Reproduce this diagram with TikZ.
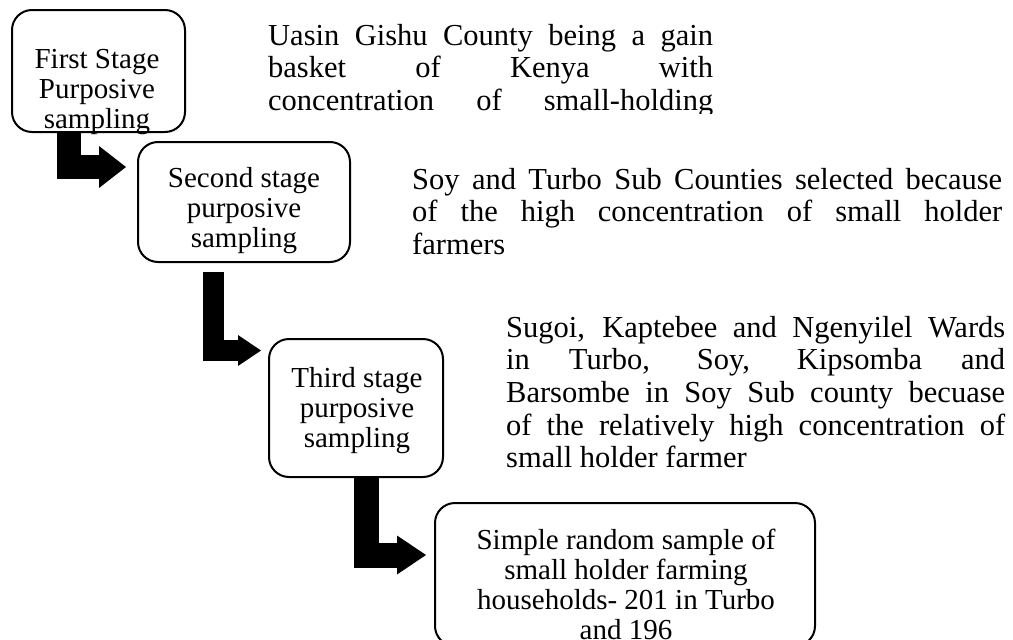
\documentclass[tikz,border=0pt]{standalone}
\usepackage{fontspec}
\setmainfont{Liberation Serif}
\usetikzlibrary{arrows.meta,calc}
\newcommand\jline[2]{\makebox[#1][s]{#2}}
\tikzset{
  stagebox/.style={draw, line width=2pt, rounded corners=20pt, inner sep=0pt},
  boxtext/.style={inner sep=0pt, anchor=base, font=\fontsize{29}{30}\selectfont},
  paratext/.style={inner sep=0pt, anchor=base west, font=\fontsize{30.5}{32.7}\selectfont},
  fatarrow/.style={line join=miter, line cap=butt}
}
\begin{document}
\begin{tikzpicture}[x=1pt,y=-1pt]
\useasboundingbox (0,0) rectangle (1013,640);
\clip (0,0) rectangle (1013,640);

% boxes
\node[stagebox, minimum width=173pt, minimum height=122pt] (b1) at (98.5,71) {};
\node[stagebox, minimum width=212pt, minimum height=120pt] (b2) at (244,202) {};
\node[stagebox, minimum width=174pt, minimum height=138pt] (b3) at (356,408) {};
\node[stagebox, minimum width=380pt, minimum height=143pt] (b4) at (625,574.5) {};

% box texts
\node[boxtext] (t1) at (97,68) {\parbox[t]{170pt}{\centering First Stage\\Purposive\\sampling}};
\node[boxtext] (t2) at (244,187) {\parbox[t]{210pt}{\centering Second stage\\purposive\\sampling}};
\node[boxtext] (t3) at (357,387) {\parbox[t]{172pt}{\centering Third stage\\purposive\\sampling}};
\node[boxtext] (t4) at (626,549) {\parbox[t]{370pt}{\centering Simple random sample of\\small holder farming\\households- 201 in Turbo\\and 196}};

% paragraph texts
\begin{scope}
\clip (260,0) rectangle (730,113);
\node[paratext] (p1) at (268,45) {\parbox[t]{445pt}{\jline{445pt}{Uasin Gishu County being a gain}\\\jline{445pt}{basket of Kenya with}\\\jline{445pt}{concentration of small-holding}}};
\end{scope}
\node[paratext] (p2) at (412,189) {\parbox[t]{590pt}{\jline{590pt}{Soy and Turbo Sub Counties selected because}\\\jline{590pt}{of the high concentration of small holder}\\farmers}};
\node[paratext] (p3) at (506,337) {\parbox[t]{499pt}{\jline{499pt}{Sugoi, Kaptebee and Ngenyilel Wards}\\\jline{499pt}{in Turbo, Soy, Kipsomba and}\\\jline{499pt}{Barsombe in Soy Sub county becuase}\\\jline{499pt}{of the relatively high concentration of}\\small holder farmer}};

% bent arrows
\coordinate (a1s) at ($(b1.south)+(-29.5,0)$);
\coordinate (a1e) at ($(b2.north west)+(-11,26)$);
\draw[fatarrow, line width=24pt, -{Triangle[length=27pt,width=42pt,line width=0pt]}] (a1s) |- (a1e);

\coordinate (a2s) at ($(b2.south)+(-30.5,9)$);
\coordinate (a2e) at ($(b3.north west)+(-7,12.5)$);
\draw[fatarrow, line width=21pt, -{Triangle[length=23pt,width=31pt,line width=0pt]}] (a2s) |- (a2e);

\coordinate (a3s) at ($(b3.south)+(10.5,0)$);
\coordinate (a3e) at ($(b4.north west)+(-8,53)$);
\draw[fatarrow, line width=25pt, -{Triangle[length=29pt,width=39pt,line width=0pt]}] (a3s) |- (a3e);
\end{tikzpicture}
\end{document}
